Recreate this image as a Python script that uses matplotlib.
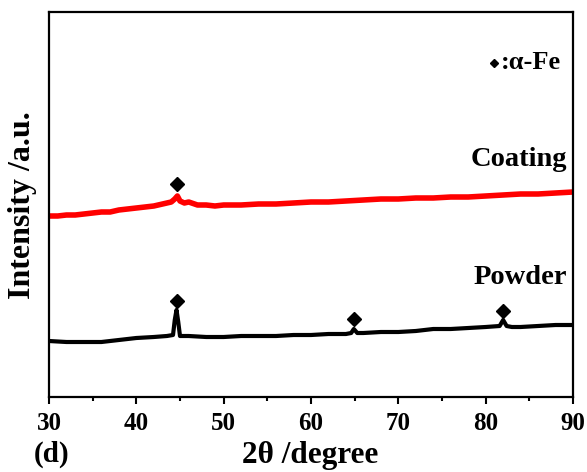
import matplotlib
matplotlib.use("Agg")
import matplotlib.pyplot as plt

# 2-theta positions and intensities (arbitrary units, offset stacked)
coating_x = [30, 31, 32, 33, 34, 35, 36, 37, 38, 39, 40, 41, 42, 43, 44, 44.4, 44.7, 45.0, 45.5, 46, 47, 48,
             49, 50, 52, 54, 56, 58, 60, 62, 64, 66, 68, 70, 72, 74, 76, 78, 80, 82, 84, 86, 88, 90]
coating_y = [181, 181, 182, 182, 183, 184, 185, 185, 187, 188, 189, 190, 191, 193, 195, 198, 201, 196, 194, 195,
             192, 192, 191, 192, 192, 193, 193, 194, 195, 195, 196, 197, 198, 198, 199, 199, 200, 200, 201, 202,
             203, 203, 204, 205]

powder_x = [30, 32, 34, 36, 38, 40, 42, 43.5, 44.2, 44.4, 44.6, 44.8, 45.0, 46, 48, 50, 52, 54, 56, 58, 60, 62,
            64, 64.6, 64.9, 65.3, 66, 68, 70, 72, 74, 76, 78, 80, 81.6, 82.0, 82.4, 83, 84, 86, 88, 90]
powder_y = [56, 55, 55, 55, 57, 59, 60, 61, 62, 77, 87, 75, 61, 61, 60, 60, 61, 61, 61, 62, 62, 63,
            63, 64, 68, 64, 64, 65, 65, 66, 68, 68, 69, 70, 71, 77, 71, 70, 70, 71, 72, 72]

# alpha-Fe peak markers
coat_peak_x = [44.7]
coat_peak_y = [213]
powd_peak_x = [44.6, 64.9, 82.0]
powd_peak_y = [96, 78, 86]

x_ticks = [30, 40, 50, 60, 70, 80, 90]

serif = ['Liberation Serif', 'DejaVu Serif']
plt.rcParams['font.family'] = serif
plt.rcParams['font.weight'] = 'bold'

fig = plt.figure(figsize=(5.87, 4.72), dpi=100)
ax = fig.add_axes([49/587, 75/472, 524/587, 385/472])

ax.plot(coating_x, coating_y, color='#ff0000', lw=4.0, solid_joinstyle='round')
ax.plot(powder_x, powder_y, color='black', lw=3.0, solid_joinstyle='round')
ax.plot(coat_peak_x, coat_peak_y, linestyle='none', marker='D', ms=7, color='black')
ax.plot(powd_peak_x, powd_peak_y, linestyle='none', marker='D', ms=7, color='black')

ax.set_xlim(30, 90)
ax.set_ylim(0, 385)
ax.set_xticks(x_ticks)
ax.set_xticks([35, 45, 55, 65, 75, 85], minor=True)
ax.set_yticks([])
ax.tick_params(axis='x', which='major', direction='out', length=5, width=1.5, labelsize=18, pad=6)
ax.tick_params(axis='x', which='minor', direction='out', length=3, width=1.5)
for lab in ax.get_xticklabels():
    lab.set_fontweight('bold')
for s in ax.spines.values():
    s.set_linewidth(1.6)

ax.text(89.3, 237, 'Coating', ha='right', va='center', fontsize=20.5, fontweight='bold')
ax.text(89.3, 119, 'Powder', ha='right', va='center', fontsize=20.5, fontweight='bold')
ax.text(88.6, 334, ':\u03b1-Fe', ha='right', va='center', fontsize=19, fontweight='bold')
ax.plot([80.9], [334], linestyle='none', marker='D', ms=4.5, color='black')

fig.text(23/587, 1 - 205/472, 'Intensity /a.u.', rotation=90, ha='center', va='center',
         fontsize=23, fontweight='bold')
fig.text(310/587, 1 - 456/472, '2\u03b8 /degree', ha='center', va='center', fontsize=22.5, fontweight='bold')
fig.text(52/587, 1 - 454/472, '(d)', ha='center', va='center', fontsize=21, fontweight='bold')

fig.savefig('out.png', dpi=100)
